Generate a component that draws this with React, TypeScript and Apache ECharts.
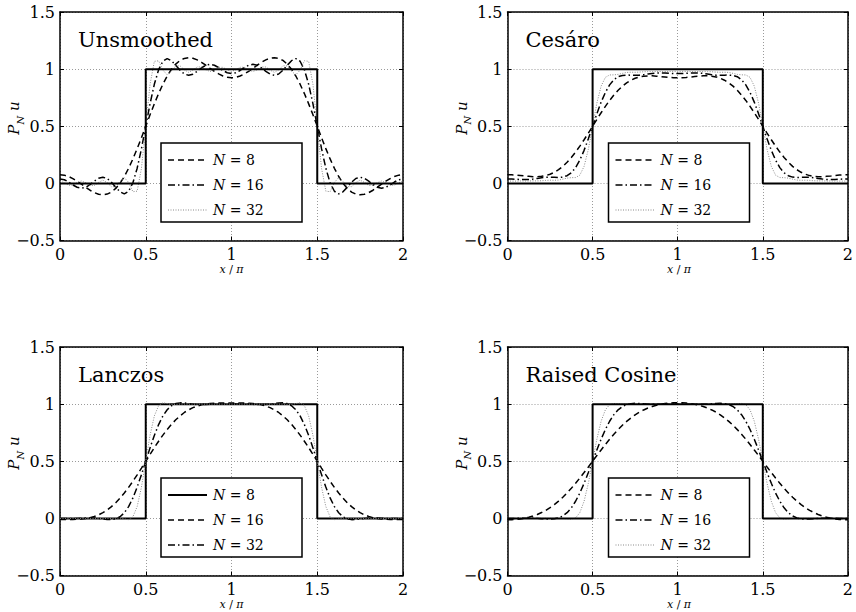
import React, { useEffect, useRef } from "react";
import * as echarts from "echarts";

// ---------- data ----------
const XS = [
  0, 0.025, 0.05, 0.075, 0.1, 0.125, 0.15, 0.175, 0.2, 0.225,
  0.25, 0.275, 0.3, 0.325, 0.35, 0.375, 0.4, 0.425, 0.45, 0.475,
  0.5, 0.525, 0.55, 0.575, 0.6, 0.625, 0.65, 0.675, 0.7, 0.725,
  0.75, 0.775, 0.8, 0.825, 0.85, 0.875, 0.9, 0.925, 0.95, 0.975,
  1, 1.025, 1.05, 1.075, 1.1, 1.125, 1.15, 1.175, 1.2, 1.225,
  1.25, 1.275, 1.3, 1.325, 1.35, 1.375, 1.4, 1.425, 1.45, 1.475,
  1.5, 1.525, 1.55, 1.575, 1.6, 1.625, 1.65, 1.675, 1.7, 1.725,
  1.75, 1.775, 1.8, 1.825, 1.85, 1.875, 1.9, 1.925, 1.95, 1.975, 2,
];

const SQUARE_X = [0, 0.5, 0.5, 1.5, 1.5, 2];
const SQUARE_Y = [0, 0, 1, 1, 0, 0];

const UNSM_8 = [
  0.076, 0.072, 0.060, 0.042, 0.019, -0.007, -0.034, -0.060, -0.081, -0.095,
  -0.100, -0.094, -0.076, -0.044, 0.001, 0.060, 0.132, 0.214, 0.304, 0.400,
  0.5,
  0.600, 0.696, 0.786, 0.868, 0.940, 0.999, 1.044, 1.076, 1.094, 1.100,
  1.095, 1.081, 1.060, 1.034, 1.007, 0.981, 0.958, 0.940, 0.928, 0.924,
  0.928, 0.940, 0.958, 0.981, 1.007, 1.034, 1.060, 1.081, 1.095, 1.100,
  1.094, 1.076, 1.044, 0.999, 0.940, 0.868, 0.786, 0.696, 0.600,
  0.5,
  0.400, 0.304, 0.214, 0.132, 0.060, 0.001, -0.044, -0.076, -0.094, -0.100,
  -0.095, -0.081, -0.060, -0.034, -0.007, 0.019, 0.042, 0.060, 0.072, 0.076,
];
const UNSM_16 = [
  0.039, 0.032, 0.012, -0.014, -0.034, -0.042, -0.034, -0.011, 0.019, 0.044,
  0.054, 0.043, 0.010, -0.034, -0.074, -0.092, -0.069, 0.005, 0.133, 0.304,
  0.5,
  0.696, 0.867, 0.995, 1.069, 1.092, 1.074, 1.034, 0.990, 0.957, 0.946,
  0.956, 0.981, 1.011, 1.034, 1.042, 1.034, 1.014, 0.988, 0.968, 0.961,
  0.968, 0.988, 1.014, 1.034, 1.042, 1.034, 1.011, 0.981, 0.956, 0.946,
  0.957, 0.990, 1.034, 1.074, 1.092, 1.069, 0.995, 0.867, 0.696,
  0.5,
  0.304, 0.133, 0.005, -0.069, -0.092, -0.074, -0.034, 0.010, 0.043, 0.054,
  0.044, 0.019, -0.011, -0.034, -0.042, -0.034, -0.014, 0.012, 0.032, 0.039,
];
const UNSM_32 = [
  0.020, 0.006, -0.016, -0.016, 0.007, 0.021, 0.006, -0.019, -0.019, 0.009,
  0.028, 0.007, -0.029, -0.028, 0.018, 0.050, 0.009, -0.073, -0.068, 0.133,
  0.5,
  0.867, 1.068, 1.073, 0.991, 0.950, 0.982, 1.028, 1.029, 0.993, 0.972,
  0.991, 1.019, 1.019, 0.994, 0.979, 0.993, 1.016, 1.016, 0.994, 0.980,
  0.994, 1.016, 1.016, 0.993, 0.979, 0.994, 1.019, 1.019, 0.991, 0.972,
  0.993, 1.029, 1.028, 0.982, 0.950, 0.991, 1.073, 1.068, 0.867,
  0.5,
  0.133, -0.068, -0.073, 0.009, 0.050, 0.018, -0.028, -0.029, 0.007, 0.028,
  0.009, -0.019, -0.019, 0.006, 0.021, 0.007, -0.016, -0.016, 0.006, 0.020,
];

const CES_8 = [
  0.076, 0.075, 0.073, 0.069, 0.065, 0.062, 0.059, 0.059, 0.062, 0.068,
  0.080, 0.097, 0.120, 0.149, 0.185, 0.227, 0.274, 0.326, 0.382, 0.440,
  0.5,
  0.560, 0.618, 0.674, 0.726, 0.773, 0.815, 0.851, 0.880, 0.903, 0.920,
  0.932, 0.938, 0.941, 0.941, 0.938, 0.935, 0.931, 0.927, 0.925, 0.924,
  0.925, 0.927, 0.931, 0.935, 0.938, 0.941, 0.941, 0.938, 0.932, 0.920,
  0.903, 0.880, 0.851, 0.815, 0.773, 0.726, 0.674, 0.618, 0.560,
  0.5,
  0.440, 0.382, 0.326, 0.274, 0.227, 0.185, 0.149, 0.120, 0.097, 0.080,
  0.068, 0.062, 0.059, 0.059, 0.062, 0.065, 0.069, 0.073, 0.075, 0.076,
];
const CES_16 = [
  0.039, 0.038, 0.036, 0.034, 0.033, 0.034, 0.038, 0.043, 0.049, 0.053,
  0.054, 0.053, 0.052, 0.055, 0.067, 0.093, 0.138, 0.204, 0.289, 0.390,
  0.5,
  0.610, 0.711, 0.796, 0.862, 0.907, 0.934, 0.945, 0.948, 0.947, 0.946,
  0.947, 0.951, 0.957, 0.962, 0.966, 0.967, 0.966, 0.964, 0.962, 0.961,
  0.962, 0.964, 0.966, 0.967, 0.966, 0.962, 0.957, 0.951, 0.947, 0.946,
  0.947, 0.948, 0.945, 0.934, 0.907, 0.862, 0.796, 0.711, 0.610,
  0.5,
  0.390, 0.289, 0.204, 0.138, 0.093, 0.067, 0.055, 0.052, 0.053, 0.054,
  0.053, 0.049, 0.043, 0.038, 0.034, 0.033, 0.034, 0.036, 0.038, 0.039,
];
const CES_32 = [
  0.020, 0.020, 0.020, 0.021, 0.021, 0.021, 0.022, 0.022, 0.023, 0.026,
  0.028, 0.027, 0.029, 0.037, 0.046, 0.050, 0.051, 0.072, 0.149, 0.298,
  0.5,
  0.702, 0.851, 0.928, 0.949, 0.950, 0.954, 0.963, 0.971, 0.973, 0.972,
  0.974, 0.977, 0.978, 0.978, 0.979, 0.979, 0.979, 0.980, 0.980, 0.980,
  0.980, 0.980, 0.979, 0.979, 0.979, 0.978, 0.978, 0.977, 0.974, 0.972,
  0.973, 0.971, 0.963, 0.954, 0.950, 0.949, 0.928, 0.851, 0.702,
  0.5,
  0.298, 0.149, 0.072, 0.051, 0.050, 0.046, 0.037, 0.029, 0.027, 0.028,
  0.026, 0.023, 0.022, 0.022, 0.021, 0.021, 0.021, 0.020, 0.020, 0.020,
];

const LAN_8 = [
  -0.010, -0.009, -0.009, -0.009, -0.008, -0.005, -0.001, 0.006, 0.017, 0.031,
  0.050, 0.073, 0.103, 0.137, 0.177, 0.222, 0.271, 0.325, 0.381, 0.440,
  0.5,
  0.560, 0.619, 0.675, 0.729, 0.778, 0.823, 0.863, 0.897, 0.927, 0.950,
  0.969, 0.983, 0.994, 1.001, 1.005, 1.008, 1.009, 1.009, 1.009, 1.010,
  1.009, 1.009, 1.009, 1.008, 1.005, 1.001, 0.994, 0.983, 0.969, 0.950,
  0.927, 0.897, 0.863, 0.823, 0.778, 0.729, 0.675, 0.619, 0.560,
  0.5,
  0.440, 0.381, 0.325, 0.271, 0.222, 0.177, 0.137, 0.103, 0.073, 0.050,
  0.031, 0.017, 0.006, -0.001, -0.005, -0.008, -0.009, -0.009, -0.009, -0.010,
];
const LAN_16 = [
  -0.001, -0.001, -0.001, -0.001, 0.000, 0.002, 0.003, 0.004, 0.003, 0.000,
  -0.005, -0.010, -0.011, -0.005, 0.014, 0.049, 0.103, 0.179, 0.274, 0.383,
  0.5,
  0.617, 0.726, 0.821, 0.897, 0.951, 0.986, 1.005, 1.011, 1.010, 1.005,
  1.000, 0.997, 0.996, 0.997, 0.998, 1.000, 1.001, 1.001, 1.001, 1.001,
  1.001, 1.001, 1.001, 1.000, 0.998, 0.997, 0.996, 0.997, 1.000, 1.005,
  1.010, 1.011, 1.005, 0.986, 0.951, 0.897, 0.821, 0.726, 0.617,
  0.5,
  0.383, 0.274, 0.179, 0.103, 0.049, 0.014, -0.005, -0.011, -0.010, -0.005,
  0.000, 0.003, 0.004, 0.003, 0.002, 0.000, -0.001, -0.001, -0.001, -0.001,
];
const LAN_32 = [
  0, 0, 0, 0, 0, 0, 0, 0, 0, 0,
  0, 0, 0, 0.002, 0.003, -0.005, -0.012, 0.013, 0.104, 0.274,
  0.5,
  0.726, 0.896, 0.987, 1.012, 1.005, 0.997, 0.998, 1, 1, 1,
  1, 1, 1, 1, 1, 1, 1, 1, 1, 1,
  1, 1, 1, 1, 1, 1, 1, 1, 1, 1,
  1, 1, 0.998, 0.997, 1.005, 1.012, 0.987, 0.896, 0.726,
  0.5,
  0.274, 0.104, 0.013, -0.012, -0.005, 0.003, 0.002, 0, 0, 0,
  0, 0, 0, 0, 0, 0, 0, 0, 0, 0,
];

const RC_8 = [
  -0.012, -0.012, -0.009, -0.005, 0.001, 0.010, 0.021, 0.034, 0.051, 0.070,
  0.094, 0.121, 0.151, 0.185, 0.223, 0.263, 0.307, 0.353, 0.401, 0.450,
  0.5,
  0.550, 0.599, 0.647, 0.693, 0.737, 0.777, 0.815, 0.849, 0.879, 0.906,
  0.930, 0.949, 0.966, 0.979, 0.990, 0.999, 1.005, 1.009, 1.012, 1.012,
  1.012, 1.009, 1.005, 0.999, 0.990, 0.979, 0.966, 0.949, 0.930, 0.906,
  0.879, 0.849, 0.815, 0.777, 0.737, 0.693, 0.647, 0.599, 0.550,
  0.5,
  0.450, 0.401, 0.353, 0.307, 0.263, 0.223, 0.185, 0.151, 0.121, 0.094,
  0.070, 0.051, 0.034, 0.021, 0.010, 0.001, -0.005, -0.009, -0.012, -0.012,
];
const RC_16 = [
  -0.002, -0.001, 0.000, 0.001, 0.002, 0.002, 0.002, 0.000, -0.003, -0.005,
  -0.007, -0.004, 0.004, 0.021, 0.050, 0.092, 0.150, 0.222, 0.307, 0.401,
  0.5,
  0.599, 0.693, 0.778, 0.850, 0.908, 0.950, 0.979, 0.996, 1.004, 1.007,
  1.005, 1.003, 1.000, 0.998, 0.998, 0.998, 0.999, 1.000, 1.001, 1.002,
  1.001, 1.000, 0.999, 0.998, 0.998, 0.998, 1.000, 1.003, 1.005, 1.007,
  1.004, 0.996, 0.979, 0.950, 0.908, 0.850, 0.778, 0.693, 0.599,
  0.5,
  0.401, 0.307, 0.222, 0.150, 0.092, 0.050, 0.021, 0.004, -0.004, -0.007,
  -0.005, -0.003, 0.000, 0.002, 0.002, 0.002, 0.001, 0.000, -0.001, -0.002,
];
const RC_32 = [
  0, 0, 0, 0, 0, 0, 0, 0, 0, 0,
  0, 0, 0, 0, -0.003, -0.006, 0.004, 0.050, 0.150, 0.307,
  0.5,
  0.693, 0.850, 0.950, 0.996, 1.006, 1.003, 1, 1, 1, 1,
  1, 1, 1, 1, 1, 1, 1, 1, 1, 1,
  1, 1, 1, 1, 1, 1, 1, 1, 1, 1,
  1, 1, 1, 1.003, 1.006, 0.996, 0.950, 0.850, 0.693,
  0.5,
  0.307, 0.150, 0.050, 0.004, -0.006, -0.003, 0, 0, 0, 0,
  0, 0, 0, 0, 0, 0, 0, 0, 0, 0,
];

const TITLES = ["Unsmoothed", "Cesáro", "Lanczos", "Raised Cosine"];
const LEGEND_LABELS = ["8", "16", "32"];

// ---------- layout & styles ----------
const PANEL_LEFT = [60, 507.5, 60, 507.5];
const PANEL_TOP = [12, 12, 347, 347];
const W = 343;
const H = 228.5;
const FONT = "DejaVu Serif";

type LS = { color: string; width: number; dash: any };
const STYLES: Record<string, LS> = {
  solid: { color: "#000", width: 2, dash: "solid" },
  dashed: { color: "#000", width: 1.5, dash: [6, 4] },
  dashdot: { color: "#000", width: 1.5, dash: [7, 3, 1.5, 3] },
  dotted: { color: "#8a8a8a", width: 1, dash: [1, 1.5] },
};

const PANELS = [
  { curves: [UNSM_8, UNSM_16, UNSM_32], legend: ["dashed", "dashdot", "dotted"], squareFirst: false },
  { curves: [CES_8, CES_16, CES_32], legend: ["dashed", "dashdot", "dotted"], squareFirst: false },
  { curves: [LAN_8, LAN_16, LAN_32], legend: ["solid", "dashed", "dashdot"], squareFirst: true },
  { curves: [RC_8, RC_16, RC_32], legend: ["dashed", "dashdot", "dotted"], squareFirst: false },
];
const CURVE_STYLES = ["dashed", "dashdot", "dotted"];

function buildOption() {
  const grid: any[] = [];
  const xAxis: any[] = [];
  const yAxis: any[] = [];
  const series: any[] = [];
  const graphic: any[] = [];

  const fmt = (v: number) => (v < 0 ? "\u2212" + String(-v) : String(v));
  const axisLineStyle = { color: "#000", width: 1.5 };
  const tickStyle = { show: true, inside: true, length: 4, lineStyle: { color: "#000", width: 1 } };
  const labelStyle = { color: "#000", fontFamily: FONT, fontSize: 16 };
  const split = { show: true, lineStyle: { color: "#9a9a9a", width: 1, type: [1, 2] } };

  PANELS.forEach((p, i) => {
    const left = PANEL_LEFT[i];
    const top = PANEL_TOP[i];
    grid.push({ left, top, width: W, height: H, containLabel: false });

    xAxis.push({
      type: "value", gridIndex: i, min: 0, max: 2, interval: 0.5, position: "bottom",
      axisLine: { show: true, onZero: false, lineStyle: axisLineStyle },
      axisTick: tickStyle,
      axisLabel: { ...labelStyle, margin: 6, formatter: fmt },
      splitLine: split,
    });
    xAxis.push({
      type: "value", gridIndex: i, min: 0, max: 2, interval: 0.5, position: "top",
      axisLine: { show: true, onZero: false, lineStyle: axisLineStyle },
      axisTick: tickStyle,
      axisLabel: { show: false },
      splitLine: { show: false },
    });
    yAxis.push({
      type: "value", gridIndex: i, min: -0.5, max: 1.5, interval: 0.5, position: "left",
      axisLine: { show: true, onZero: false, lineStyle: axisLineStyle },
      axisTick: tickStyle,
      axisLabel: { ...labelStyle, margin: 5, formatter: fmt },
      splitLine: split,
    });
    yAxis.push({
      type: "value", gridIndex: i, min: -0.5, max: 1.5, interval: 0.5, position: "right",
      axisLine: { show: true, onZero: false, lineStyle: axisLineStyle },
      axisTick: tickStyle,
      axisLabel: { show: false },
      splitLine: { show: false },
    });

    const mk = (data: number[][], st: LS) => ({
      type: "line",
      xAxisIndex: 2 * i,
      yAxisIndex: 2 * i,
      data,
      showSymbol: false,
      symbol: "none",
      silent: true,
      lineStyle: { color: st.color, width: st.width, type: st.dash },
    });
    const square = mk(SQUARE_X.map((x, k) => [x, SQUARE_Y[k]]), STYLES.solid);
    const curves = p.curves.map((ys, c) => mk(XS.map((x, k) => [x, ys[k]]), STYLES[CURVE_STYLES[c]]));
    if (p.squareFirst) series.push(square, ...curves);
    else series.push(...curves, square);

    // title
    graphic.push({
      type: "text", x: left + 18, y: top + 28, z: 100,
      style: { text: TITLES[i], fill: "#000", fontFamily: FONT, fontSize: 21, align: "left", verticalAlign: "middle" },
    });
    // y axis label
    graphic.push({
      type: "text", x: left - 46, y: top + 106, rotation: Math.PI / 2, z: 100,
      style: {
        text: "{p|P}{s|N}{p| u}", fill: "#000", fontFamily: FONT, fontSize: 15,
        align: "center", verticalAlign: "middle",
        rich: {
          p: { fontFamily: FONT, fontSize: 15, fontStyle: "italic", lineHeight: 22, verticalAlign: "middle", fill: "#000" },
          s: { fontFamily: FONT, fontSize: 10, fontStyle: "italic", lineHeight: 22, verticalAlign: "bottom", fill: "#000" },
        },
      },
    });
    // x axis label
    graphic.push({
      type: "text", x: left + W / 2, y: top + H + 29, z: 100,
      style: {
        text: "{i|x} / {i|\u03c0}", fill: "#000", fontFamily: FONT, fontSize: 11,
        align: "center", verticalAlign: "middle",
        rich: { i: { fontFamily: FONT, fontSize: 11, fontStyle: "italic", fill: "#000" } },
      },
    });
    // legend box
    const bx = left + 101;
    const by = top + 131;
    graphic.push({
      type: "rect", z: 100,
      shape: { x: bx, y: by, width: 141, height: 79 },
      style: { fill: "#fff", stroke: "#000", lineWidth: 1.5 },
    });
    p.legend.forEach((key, r) => {
      const st = STYLES[key];
      const ry = by + 17 + r * 25;
      graphic.push({
        type: "line", z: 101,
        shape: { x1: bx + 7, y1: ry, x2: bx + 46, y2: ry },
        style: { stroke: st.color, lineWidth: st.width, lineDash: Array.isArray(st.dash) ? st.dash : null },
      });
      graphic.push({
        type: "text", x: bx + 52, y: ry, z: 101,
        style: {
          text: "{i|N} = " + LEGEND_LABELS[r], fill: "#000", fontFamily: FONT, fontSize: 14,
          align: "left", verticalAlign: "middle",
          rich: { i: { fontFamily: FONT, fontSize: 14, fontStyle: "italic", fill: "#000" } },
        },
      });
    });
  });

  return {
    animation: false,
    backgroundColor: "#fff",
    textStyle: { fontFamily: FONT },
    grid,
    xAxis,
    yAxis,
    series,
    graphic,
  };
}

export default function App() {
  const ref = useRef<HTMLDivElement>(null);
  useEffect(() => {
    if (!ref.current) return;
    const chart = echarts.init(ref.current, undefined, { renderer: "svg" });
    chart.setOption(buildOption() as any);
    return () => chart.dispose();
  }, []);
  return (
    <div
      ref={ref}
      style={{ position: "absolute", left: 0, top: 0, width: 856, height: 612, background: "#fff" }}
    />
  );
}
